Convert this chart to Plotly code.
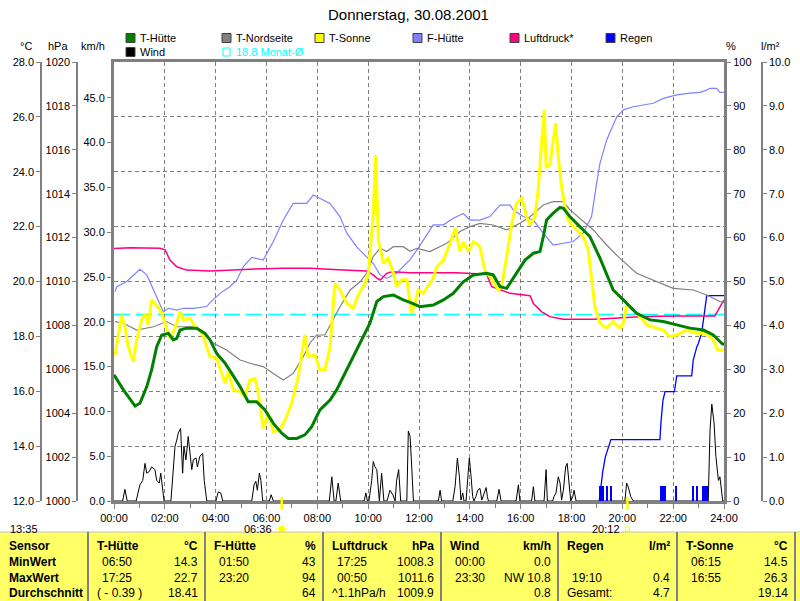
import math
import plotly.graph_objects as go

# ---------------- data ----------------
hour_ticks = list(range(0, 25, 2))
hour_labels = [f"{h:02d}:00" for h in hour_ticks]

t_huette_t = [0.00,0.37,0.83,1.02,1.29,1.48,1.68,1.88,2.14,2.33,
              2.47,2.60,2.86,3.25,3.58,3.78,4.04,4.37,4.63,4.96,
              5.28,5.61,5.94,6.27,6.60,6.86,7.19,7.51,7.78,8.10,
              8.50,8.76,9.02,9.41,9.81,10.07,10.34,10.60,10.99,11.38,
              11.65,12.04,12.56,12.96,13.35,13.74,14.14,14.66,14.92,15.19,
              15.45,15.84,16.17,16.50,16.76,16.89,17.02,17.28,17.55,17.68,
              17.94,18.33,18.73,19.12,19.38,19.64,20.04,20.56,21.09,21.61,
              22.14,22.66,23.19,23.58,23.91,24.00]
t_huette = [16.60,16.05,15.46,15.56,16.17,16.78,17.62,18.05,18.11,17.87,
            17.93,18.23,18.30,18.30,18.11,17.87,17.38,17.02,16.65,16.17,
            15.62,15.62,15.32,14.83,14.47,14.28,14.28,14.41,14.71,15.32,
            15.68,16.05,16.53,17.26,17.99,18.48,19.27,19.45,19.51,19.33,
            19.24,19.08,19.14,19.33,19.57,19.99,20.24,20.30,20.24,19.81,
            19.75,20.30,20.78,21.03,21.09,21.63,22.24,22.49,22.70,22.67,
            22.36,22.00,21.63,20.85,20.30,19.69,19.33,18.84,18.60,18.54,
            18.42,18.30,18.23,18.05,17.75,17.70]

t_nord_t = [0.04,0.37,0.89,1.29,1.55,2.07,2.47,3.25,3.65,3.91,
            4.43,4.96,5.35,5.87,6.27,6.66,7.05,7.45,7.71,7.97,
            8.30,8.63,8.89,9.29,9.68,9.94,10.20,10.47,10.73,10.99,
            11.38,11.65,11.91,12.43,12.83,13.09,13.61,14.01,14.40,14.92,
            15.45,15.97,16.37,16.89,17.28,17.68,17.94,18.33,18.86,19.38,
            19.90,20.56,21.22,22.00,22.79,23.32,23.84,24.00]
t_nord = [18.54,18.48,18.23,18.30,18.35,18.54,18.35,18.35,17.99,17.75,
          17.50,17.14,17.02,16.90,16.65,16.41,16.65,17.26,17.75,18.05,
          18.05,18.60,19.08,19.69,19.99,20.30,20.91,21.21,21.09,21.27,
          21.27,21.10,21.21,21.09,21.27,21.39,21.82,22.00,22.12,22.06,
          21.88,22.12,22.36,22.79,22.91,22.91,22.61,22.30,21.88,21.33,
          20.85,20.30,20.06,19.75,19.69,19.51,19.27,19.23]

t_sonne_t = [0.04,0.17,0.30,0.43,0.56,0.76,0.89,1.09,1.22,1.35,
             1.48,1.68,1.88,2.07,2.20,2.40,2.60,2.73,2.99,3.19,
             3.38,3.51,3.78,4.04,4.24,4.37,4.50,4.69,4.96,5.15,
             5.35,5.55,5.68,5.87,6.07,6.27,6.53,6.73,6.99,7.25,
             7.51,7.64,7.91,8.10,8.30,8.50,8.69,8.89,9.16,9.41,
             9.61,9.88,10.01,10.20,10.30,10.40,10.60,10.79,10.99,11.12,
             11.32,11.52,11.71,11.84,11.97,12.17,12.56,12.70,12.96,13.22,
             13.42,13.61,13.74,13.94,14.14,14.40,14.60,14.79,15.12,15.25,
             15.45,15.65,15.84,16.04,16.24,16.37,16.56,16.69,16.83,16.93,
             17.00,17.15,17.28,17.38,17.48,17.61,17.74,17.87,18.07,18.27,
             18.46,18.66,18.79,18.92,19.12,19.38,19.64,19.90,20.04,20.17,
             20.43,20.69,20.96,21.22,21.61,21.87,22.14,22.53,22.93,23.32,
             23.58,23.75,24.00]
t_sonne = [17.32,17.99,18.78,18.35,17.62,17.08,17.87,18.60,18.84,18.42,
           19.33,19.14,18.84,18.30,17.93,18.30,18.90,18.60,18.66,18.35,
           18.23,17.99,17.26,17.20,16.65,16.29,16.71,16.05,15.99,15.80,
           16.41,16.47,15.93,14.65,15.20,14.53,14.59,14.95,15.56,16.53,
           18.05,17.26,17.32,16.78,16.78,17.62,19.93,19.69,19.21,19.02,
           19.51,19.93,20.30,22.49,24.61,21.51,20.66,20.85,20.30,19.81,
           20.06,20.06,18.84,19.21,19.69,19.57,20.12,20.54,20.78,21.39,
           21.94,21.09,21.45,21.09,21.45,21.27,20.36,20.18,19.69,19.81,
           20.91,22.12,22.85,23.03,22.36,22.06,22.36,23.33,25.16,26.25,
           24.18,24.25,25.16,25.77,24.55,23.45,22.73,22.24,22.00,21.82,
           21.63,21.15,20.18,19.08,18.48,18.30,18.54,18.30,18.48,19.14,
           18.96,18.72,18.42,18.35,18.23,17.99,18.05,18.23,18.11,18.11,
           17.87,17.50,17.50]

f_huette_t = [0.04,0.11,0.50,1.02,1.29,1.55,1.94,2.14,2.47,2.73,
              3.12,3.65,3.78,4.17,4.56,4.83,5.09,5.42,5.87,6.27,
              6.66,7.05,7.58,7.84,8.23,8.50,8.89,9.16,9.55,9.94,
              10.20,10.47,10.73,11.12,11.38,11.65,11.97,12.56,12.96,13.35,
              13.74,14.01,14.40,14.79,15.19,15.58,15.71,16.10,16.50,16.89,
              17.28,17.68,18.07,18.46,18.79,18.99,19.12,19.38,19.78,20.04,
              20.43,20.82,21.22,21.61,22.14,22.66,23.05,23.32,23.44,23.71,
              23.84,24.00]
f_huette = [47.7,48.8,50.0,52.8,51.5,48.1,43.1,43.9,43.5,43.9,
            43.9,44.3,45.2,47.3,48.8,50.3,53.4,55.5,54.9,59.1,
            64.0,67.8,67.8,69.7,68.6,67.8,64.8,61.0,57.9,55.7,
            54.1,51.5,50.7,51.9,53.4,55.0,57.6,62.9,62.9,64.4,
            65.5,64.0,64.0,64.8,67.4,67.4,66.3,64.8,64.0,61.0,
            58.3,58.7,59.1,61.0,64.8,72.4,76.9,82.2,87.5,89.1,
            89.8,90.2,90.6,91.7,92.5,92.9,93.1,93.6,94.0,94.0,
            93.1,93.1]

luftdruck_t = [0.00,0.63,1.81,2.01,2.20,2.47,2.86,3.78,4.69,5.35,
               6.66,7.71,9.02,9.94,10.20,10.34,10.47,10.73,10.93,11.65,
               13.48,14.66,14.86,15.19,15.58,16.37,16.50,16.83,17.15,17.68,
               18.86,19.51,20.82,22.14,23.64,23.77,23.91,24.00]
luftdruck = [1011.50,1011.54,1011.51,1011.44,1010.98,1010.67,1010.52,1010.48,1010.52,1010.56,
             1010.60,1010.60,1010.52,1010.48,1010.30,1010.15,1010.07,1010.37,1010.44,1010.40,
             1010.40,1010.33,1009.76,1009.61,1009.46,1009.35,1009.00,1008.62,1008.40,1008.28,
             1008.28,1008.32,1008.40,1008.43,1008.43,1008.70,1009.01,1009.16]

wind_t = [0.00,0.34,0.43,0.52,0.87,1.02,1.13,1.22,1.29,1.39,
          1.48,1.61,1.68,1.78,1.84,1.92,1.97,2.24,2.33,2.40,
          2.47,2.53,2.62,2.70,2.75,2.83,2.92,2.99,3.06,3.12,
          3.23,3.28,3.38,3.49,3.55,3.65,4.01,4.10,4.20,4.28,
          5.42,5.51,5.58,5.64,5.72,5.78,5.85,6.11,6.18,6.27,
          8.47,8.57,8.66,8.73,8.82,8.92,9.84,9.91,9.97,10.03,
          10.14,10.20,10.27,10.34,10.44,10.53,10.62,10.74,10.86,10.97,
          11.06,11.12,11.20,11.28,11.52,11.58,11.65,11.71,11.78,12.76,
          12.83,12.89,13.33,13.42,13.51,13.59,13.65,13.72,13.77,13.85,
          13.92,13.98,14.05,14.11,14.16,14.24,14.31,14.40,14.47,14.56,
          14.64,14.69,14.73,15.06,15.15,15.23,15.82,15.91,15.97,16.43,
          16.50,16.56,16.92,17.00,17.05,17.26,17.31,17.39,17.48,17.55,
          17.61,17.68,17.77,17.83,17.91,17.97,18.05,18.10,18.18,20.10,
          20.17,20.23,20.33,20.43,23.38,23.45,23.52,23.55,23.61,23.68,
          23.78,23.84,23.91,23.95,24.00]
wind = [0.0,0.0,1.3,0.0,0.0,1.8,2.3,4.2,3.1,3.3,
        3.8,3.5,2.3,2.0,3.1,1.0,0.0,0.0,3.5,6.1,
        6.8,7.6,8.1,3.1,6.1,4.6,7.2,5.3,3.5,4.6,
        4.8,3.8,5.0,5.3,2.3,0.0,0.0,1.0,0.9,0.0,
        0.0,1.8,2.2,1.2,3.1,2.3,0.0,0.0,0.7,0.0,
        0.0,2.7,0.0,0.0,2.0,0.0,0.0,0.9,0.0,0.0,
        2.3,4.4,3.8,3.5,0.0,3.1,0.0,0.0,1.2,0.7,
        0.0,2.3,3.5,0.0,0.0,7.8,7.2,4.0,0.0,0.0,
        1.2,0.0,0.0,1.6,4.8,2.7,0.1,0.9,0.0,0.0,
        2.3,4.8,2.7,0.5,0.0,0.5,1.2,1.4,0.1,0.9,
        1.5,0.5,0.0,0.0,1.3,0.0,0.0,1.8,0.0,0.0,
        1.6,0.0,0.0,3.5,0.0,0.0,0.5,0.9,2.7,2.0,
        0.1,1.2,3.8,4.2,2.0,0.0,0.5,1.2,0.0,0.0,
        2.0,1.6,0.5,0.0,0.0,7.9,10.8,9.8,8.7,5.0,
        2.3,2.7,0.9,0.0,0.0]

regen_sum_t = [19.09,19.23,19.33,19.45,19.55,21.48,21.52,21.60,21.68,22.05,
               22.14,22.73,22.79,22.93,22.99,23.12,23.21,23.32,24.00]
regen_sum = [0.00,0.67,1.00,1.25,1.40,1.40,1.80,2.30,2.49,2.49,
             2.85,2.85,3.21,3.51,3.59,3.82,4.20,4.68,4.68]

regen_bar_t = [19.14,19.22,19.39,19.54,21.52,21.60,21.69,22.11,22.78,22.93,
               23.17,23.25,23.33]
regen_bar = [0.34] * 13

monat_mittel = 18.8
sunrise_h, sunrise_lbl = 6.6, "06:36"
sunset_h, sunset_lbl = 20.2, "20:12"
stand_lbl = "13:35"

legend_names = ["T-Hütte", "T-Nordseite", "T-Sonne", "F-Hütte", "Luftdruck*", "Regen", "Wind"]

table_headers = ["T-Hütte", "F-Hütte", "Luftdruck", "Wind", "Regen", "T-Sonne"]
table_units = ["°C", "%", "hPa", "km/h", "l/m²", "°C"]
min_time = ["06:50", "01:50", "17:25", "00:00", "", "06:15"]
min_val = ["14.3", "43", "1008.3", "0.0", "", "14.5"]
max_time = ["17:25", "23:20", "00:50", "23:30", "19:10", "16:55"]
max_val = ["22.7", "94", "1011.6", "NW 10.8", "0.4", "26.3"]
avg_note = ["( - 0.39 )", "", "^1.1hPa/h", "", "Gesamt:", ""]
avg_val = ["18.41", "64", "1009.9", "0.8", "4.7", "19.14"]
row_labels = ["Sensor", "MinWert", "MaxWert", "Durchschnitt"]

# ---------------- layout geometry ----------------
W, H = 800, 601
XL, XR, YT, YB = 114, 724, 62, 501
FONT = "Liberation Sans, Arial, sans-serif"
GRAY = "#808080"


def px(x):
    return x / W


def py(y):
    return 1 - y / H


def hx(h):
    return XL + h / 24 * (XR - XL)


fig = go.Figure()

# traces (axis order controls layering: y < y2 < y3 < y4 < y5)
fig.add_trace(go.Scatter(x=wind_t, y=wind, mode="lines", line=dict(color="black", width=1),
                         xaxis="x", yaxis="y", name="Wind"))
fig.add_trace(go.Bar(x=regen_bar_t, y=regen_bar, width=5 / 60, marker=dict(color="#0000FF", line=dict(width=0)),
                     xaxis="x", yaxis="y2", name="Regen"))
fig.add_trace(go.Scatter(x=regen_sum_t, y=regen_sum, mode="lines", line=dict(color="#0000FF", width=1.3),
                         xaxis="x", yaxis="y2", name="Regen Summe"))
fig.add_trace(go.Scatter(x=f_huette_t, y=f_huette, mode="lines", line=dict(color="#8080FF", width=1.2),
                         xaxis="x", yaxis="y3", name="F-Hütte"))
fig.add_trace(go.Scatter(x=luftdruck_t, y=luftdruck, mode="lines", line=dict(color="#FF0080", width=1.5),
                         xaxis="x", yaxis="y4", name="Luftdruck*"))
fig.add_trace(go.Scatter(x=t_nord_t, y=t_nord, mode="lines", line=dict(color=GRAY, width=1.2),
                         xaxis="x", yaxis="y5", name="T-Nordseite"))
fig.add_trace(go.Scatter(x=t_sonne_t, y=t_sonne, mode="lines", line=dict(color="#FFFF00", width=3),
                         xaxis="x", yaxis="y5", name="T-Sonne"))
fig.add_trace(go.Scatter(x=t_huette_t, y=t_huette, mode="lines", line=dict(color="#008000", width=3),
                         xaxis="x", yaxis="y5", name="T-Hütte"))

ydom = [py(YB), py(YT)]
tickfont = dict(family=FONT, size=11, color="black")
common = dict(domain=ydom, showgrid=False, zeroline=False, ticks="outside", ticklen=4,
              tickcolor=GRAY, tickfont=tickfont, fixedrange=True, automargin=False)

fig.update_layout(
    width=W, height=H, margin=dict(l=0, r=0, t=0, b=0, autoexpand=False),
    paper_bgcolor="white", plot_bgcolor="white", showlegend=False,
    font=dict(family=FONT, size=11, color="black"),
    bargap=0,
    xaxis=dict(domain=[px(XL), px(XR)], range=[0, 24], tickmode="array", tickvals=hour_ticks,
               ticktext=hour_labels, ticks="outside", ticklen=5, tickcolor=GRAY, tickfont=tickfont,
               showgrid=True, gridcolor=GRAY, griddash="4px,3px", gridwidth=1, automargin=False,
               showline=True, linecolor=GRAY, linewidth=3, mirror=True, zeroline=False, fixedrange=True,
               minor=dict(tickvals=list(range(25)), ticks="outside", ticklen=4, tickcolor=GRAY, showgrid=False)),
    yaxis=dict(range=[0, 49], tickvals=list(range(0, 50, 5)),
               ticktext=[f"{v:.1f}" for v in range(0, 50, 5)], side="left", anchor="x",
               showline=True, linecolor=GRAY, linewidth=3, **common),
    yaxis2=dict(range=[0, 10], tickvals=list(range(0, 11)), ticktext=[f"{v:.1f}" for v in range(0, 11)],
                side="right", anchor="free", overlaying="y", position=px(762),
                showline=True, linecolor=GRAY, linewidth=1.5, **common),
    yaxis3=dict(range=[0, 100], tickvals=list(range(0, 101, 10)), ticktext=[str(v) for v in range(0, 101, 10)],
                side="right", anchor="x", overlaying="y",
                showline=True, linecolor=GRAY, linewidth=3, **common),
    yaxis4=dict(range=[1000, 1020], tickvals=list(range(1000, 1021, 2)),
                ticktext=[str(v) for v in range(1000, 1021, 2)],
                side="left", anchor="free", overlaying="y", position=px(77),
                showline=True, linecolor=GRAY, linewidth=1.5, **common),
    yaxis5=dict(range=[12, 28], tickvals=list(range(12, 29, 2)), ticktext=[f"{v:.1f}" for v in range(12, 29, 2)],
                side="left", anchor="free", overlaying="y", position=px(41),
                showline=True, linecolor=GRAY, linewidth=1.5,
                **{**common, "showgrid": True}, gridcolor=GRAY, griddash="4px,3px", gridwidth=1),
)

shapes = []
annotations = []

# monthly mean dashed line
shapes.append(dict(type="line", xref="x", yref="y5", x0=0, x1=24, y0=monat_mittel, y1=monat_mittel,
                   line=dict(color="#00FFFF", width=1.5, dash="16px,6px"), layer="below"))

# title
annotations.append(dict(text="Donnerstag, 30.08.2001", x=px(408), y=py(15), xref="paper", yref="paper",
                        showarrow=False, font=dict(family=FONT, size=15, color="black"),
                        xanchor="center", yanchor="middle"))

# unit labels
for txt, x in [("°C", 26), ("hPa", 58), ("km/h", 93), ("%", 731), ("l/m²", 770)]:
    annotations.append(dict(text=txt, x=px(x), y=py(46), xref="paper", yref="paper", showarrow=False,
                            font=dict(family=FONT, size=11), xanchor="center", yanchor="middle"))

# legend
legend_items = [
    (legend_names[0], "#008000", 126, 38), (legend_names[1], GRAY, 222, 38),
    (legend_names[2], "#FFFF00", 315, 38), (legend_names[3], "#8080FF", 413, 38),
    (legend_names[4], "#FF0080", 510, 38), (legend_names[5], "#0000FF", 606, 38),
    (legend_names[6], "#000000", 126, 52),
]
for name, col, x, y in legend_items:
    shapes.append(dict(type="rect", xref="paper", yref="paper", x0=px(x), x1=px(x + 9),
                       y0=py(y + 4.5), y1=py(y - 4.5), fillcolor=col, line=dict(color="#404040", width=1)))
    annotations.append(dict(text=name, x=px(x + 12), y=py(y), xref="paper", yref="paper", showarrow=False,
                            font=dict(family=FONT, size=11), xanchor="left", yanchor="middle"))
shapes.append(dict(type="rect", xref="paper", yref="paper", x0=px(223), x1=px(230),
                   y0=py(56), y1=py(48), line=dict(color="#00FFFF", width=1)))
annotations.append(dict(text=f"{monat_mittel:.1f} Monat-Ø", x=px(234), y=py(52), xref="paper", yref="paper",
                        showarrow=False, font=dict(family=FONT, size=11, color="#00FFFF"),
                        xanchor="left", yanchor="middle"))

# sunrise / sunset markers
sx, ex = hx(sunrise_h), hx(sunset_h)
for xx in (sx, ex):
    shapes.append(dict(type="line", xref="paper", yref="paper", x0=px(xx), x1=px(xx), y0=py(497), y1=py(510),
                       line=dict(color="#FFFF00", width=2.5)))
cy = 529
shapes.append(dict(type="circle", xref="paper", yref="paper", x0=px(sx - 3), x1=px(sx + 3),
                   y0=py(cy + 3), y1=py(cy - 3), fillcolor="#FFFF00", line=dict(color="#FFFF00", width=1)))
for k in range(8):
    a = k * math.pi / 4
    shapes.append(dict(type="line", xref="paper", yref="paper",
                       x0=px(sx + 4.5 * math.cos(a)), x1=px(sx + 6.5 * math.cos(a)),
                       y0=py(cy + 4.5 * math.sin(a)), y1=py(cy + 6.5 * math.sin(a)),
                       line=dict(color="#FFFF00", width=1)))
shapes.append(dict(type="rect", xref="paper", yref="paper", x0=px(ex - 2), x1=px(ex + 2),
                   y0=py(cy + 2), y1=py(cy - 2), line=dict(color="#FFFF00", width=1)))
annotations.append(dict(text=sunrise_lbl, x=px(sx - 8), y=py(cy), xref="paper", yref="paper", showarrow=False,
                        font=dict(family=FONT, size=11), xanchor="right", yanchor="middle"))
annotations.append(dict(text=sunset_lbl, x=px(ex - 5), y=py(cy), xref="paper", yref="paper", showarrow=False,
                        font=dict(family=FONT, size=11), xanchor="right", yanchor="middle"))
annotations.append(dict(text=stand_lbl, x=px(24), y=py(cy), xref="paper", yref="paper", showarrow=False,
                        font=dict(family=FONT, size=11), xanchor="center", yanchor="middle"))

# statistics table
TT, TB = 532, 601
shapes.append(dict(type="rect", xref="paper", yref="paper", x0=0, x1=1, y0=py(TB), y1=py(TT),
                   fillcolor="#FFFF66", line=dict(width=0), layer="below"))
shapes.append(dict(type="line", xref="paper", yref="paper", x0=0, x1=1, y0=py(TT), y1=py(TT),
                   line=dict(color="#C0C0C0", width=1)))
col_edges = [0, 88, 205, 323, 441, 558, 677, 795]
for xe in col_edges[1:]:
    shapes.append(dict(type="line", xref="paper", yref="paper", x0=px(xe), x1=px(xe), y0=py(TB), y1=py(TT),
                       line=dict(color=GRAY, width=2)))
row_y = [546, 562, 578, 593]
tf = dict(family=FONT, size=12, color="black")


def tann(text, x, y, anchor):
    annotations.append(dict(text=text, x=px(x), y=py(y), xref="paper", yref="paper", showarrow=False,
                            font=tf, xanchor=anchor, yanchor="middle", borderpad=0))


for i, lab in enumerate(row_labels):
    tann(f"<b>{lab}</b>", 8, row_y[i], "left")
for c in range(6):
    left, right = col_edges[c + 1], col_edges[c + 2]
    tann(f"<b>{table_headers[c]}</b>", left + 8, row_y[0], "left")
    tann(f"<b>{table_units[c]}</b>", right - 6, row_y[0], "right")
    tann(min_time[c], left + 13, row_y[1], "left")
    tann(min_val[c], right - 6, row_y[1], "right")
    tann(max_time[c], left + 13, row_y[2], "left")
    tann(max_val[c], right - 6, row_y[2], "right")
    tann(avg_note[c], left + 8, row_y[3], "left")
    tann(avg_val[c], right - 6, row_y[3], "right")

fig.update_layout(shapes=shapes, annotations=annotations)
# the page's default 8px body margin would shift the 800x601 figure; remove it
fig.write_html("out.html", config={"displayModeBar": False},
               post_script="document.body.style.margin='0';document.body.style.overflow='hidden';")
